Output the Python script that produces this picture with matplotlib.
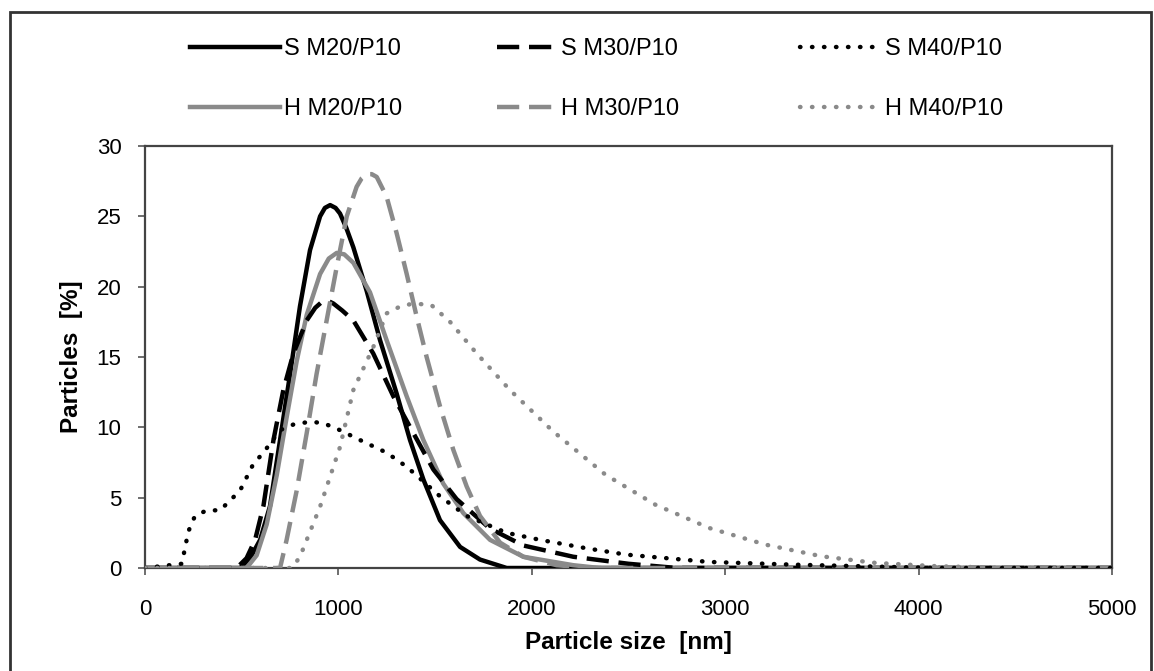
import matplotlib
matplotlib.use('Agg')
import matplotlib.pyplot as plt
from matplotlib.patches import Rectangle

plt.rcParams['font.family'] = ['Liberation Sans', 'DejaVu Sans']

# particle size [nm] and particles [%]
s20_x = [0, 491, 543, 595, 646, 698, 750, 801, 853, 905, 930, 957, 985, 1008, 1040, 1077, 1146, 1215, 1301, 1370, 1439, 1525, 1629, 1732, 1870, 5000]
s20_y = [0, 0, 0.7, 2.0, 4.4, 9.1, 13.8, 18.6, 22.6, 25.0, 25.6, 25.8, 25.6, 25.2, 24.2, 22.8, 19.7, 16.2, 12.4, 9.1, 6.3, 3.4, 1.5, 0.6, 0, 0]

s30_x = [0, 474, 525, 569, 612, 664, 715, 767, 836, 880, 913, 945, 974, 1020, 1077, 1180, 1284, 1387, 1491, 1611, 1784, 1956, 2214, 2500, 2750, 5000]
s30_y = [0, 0, 0.7, 2.0, 4.4, 9.1, 12.65, 15.25, 17.6, 18.5, 18.9, 19.0, 18.8, 18.3, 17.6, 15.25, 12.2, 9.6, 7.0, 4.9, 2.8, 1.6, 0.8, 0.3, 0, 0]

s40_x = [0, 190, 224, 258, 319, 388, 491, 560, 612, 698, 767, 853, 922, 1008, 1111, 1249, 1353, 1525, 1663, 1870, 2043, 2283, 2488, 2918, 3348, 3778, 4100, 5000]
s40_y = [0, 0.3, 2.6, 3.7, 4.1, 4.1, 5.5, 7.4, 8.2, 9.8, 10.2, 10.4, 10.3, 9.8, 9.1, 8.2, 7.2, 5.1, 3.7, 2.5, 2.0, 1.4, 0.95, 0.43, 0.24, 0.1, 0, 0]

h20_x = [0, 525, 577, 629, 681, 732, 784, 836, 905, 950, 991, 1030, 1077, 1163, 1249, 1353, 1439, 1542, 1646, 1784, 1956, 2214, 2350, 5000]
h20_y = [0, 0, 0.9, 3.1, 6.6, 10.7, 14.7, 18.0, 20.9, 22.0, 22.4, 22.3, 21.7, 19.6, 16.2, 12.2, 9.1, 6.0, 3.9, 2.0, 0.8, 0.2, 0, 0]

h30_x = [0, 698, 732, 784, 836, 887, 939, 991, 1043, 1094, 1120, 1146, 1172, 1198, 1249, 1301, 1353, 1404, 1456, 1525, 1594, 1663, 1732, 1836, 1956, 2128, 2300, 5000]
h30_y = [0, 0, 2.0, 5.5, 9.6, 13.8, 17.6, 21.4, 25.0, 27.1, 27.7, 28.0, 28.0, 27.8, 26.4, 23.8, 20.9, 17.9, 15.0, 11.5, 8.4, 5.8, 3.7, 1.8, 0.8, 0.2, 0, 0]

h40_x = [0, 760, 801, 905, 1008, 1077, 1180, 1249, 1320, 1387, 1480, 1577, 1715, 1887, 2111, 2381, 2639, 2918, 3209, 3499, 3778, 4101, 4500, 5000]
h40_y = [0, 0, 0.8, 4.36, 8.6, 12.65, 15.7, 18.1, 18.6, 18.8, 18.7, 17.5, 15.25, 12.65, 9.7, 6.63, 4.5, 2.84, 1.66, 0.83, 0.36, 0.12, 0, 0]

x_ticks = [0, 1000, 2000, 3000, 4000, 5000]
y_ticks = [0, 5, 10, 15, 20, 25, 30]

black = '#000000'
grey = '#8a8a8a'
dash = (0, (5, 2.2))
dot = (0, (0.1, 2.6))

fig = plt.figure(figsize=(11.54, 6.71), dpi=100)
ax = fig.add_axes([0.1257, 0.1535, 0.8379, 0.6289])

# outer frame of the picture
fig.patches.append(Rectangle((0.009, -0.01), 0.988, 0.992, transform=fig.transFigure,
                             fill=False, edgecolor='#333333', linewidth=2.0))

lw = 3.2
l1, = ax.plot(s20_x, s20_y, color=black, lw=lw, label='S M20/P10', zorder=3)
l4, = ax.plot(h20_x, h20_y, color=grey, lw=lw, label='H M20/P10', zorder=3)
l2, = ax.plot(s30_x, s30_y, color=black, lw=lw, ls=dash, label='S M30/P10', zorder=3)
l5, = ax.plot(h30_x, h30_y, color=grey, lw=lw, ls=dash, label='H M30/P10', zorder=3)
l3, = ax.plot(s40_x, s40_y, color=black, lw=lw, ls=dot, dash_capstyle='round', label='S M40/P10', zorder=3)
l6, = ax.plot(h40_x, h40_y, color=grey, lw=lw, ls=dot, dash_capstyle='round', label='H M40/P10', zorder=3)

ax.set_xlim(0, 5000)
ax.set_ylim(0, 30)
ax.set_xticks(x_ticks)
ax.set_yticks(y_ticks)
ax.tick_params(direction='out', length=5, width=1.2, color='#555555', labelsize=16)
ax.tick_params(axis='x', pad=17)
ax.tick_params(axis='y', pad=12)
for s in ax.spines.values():
    s.set_color('#444444')
    s.set_linewidth(1.6)

ax.set_xlabel('Particle size  [nm]', fontsize=17.5, fontweight='bold', labelpad=8)
ax.set_ylabel('Particles  [%]', fontsize=17.5, fontweight='bold', labelpad=10)

# one legend per column, each with its own handle length
cols = [([l1, l4], 0.1646, 3.8), ([l2, l5], 0.4307, 2.5), ([l3, l6], 0.6932, 3.4)]
for handles, x0, hl in cols:
    leg = fig.legend(handles=handles, ncol=1, loc='upper left',
                     bbox_to_anchor=(x0, 0.943), frameon=False, fontsize=17,
                     handlelength=hl, handletextpad=0.2, labelspacing=1.6,
                     borderpad=0, borderaxespad=0)

fig.savefig('out.png', dpi=100)
plt.close(fig)
